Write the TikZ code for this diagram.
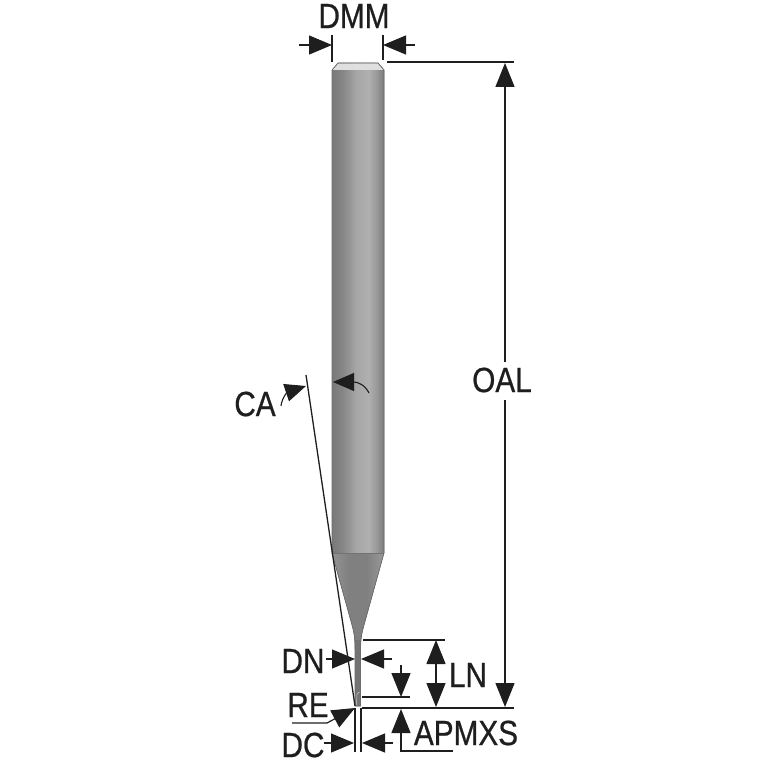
\documentclass[tikz,border=0pt]{standalone}
\usepackage{fontspec}
\setmainfont[FakeStretch=0.85,FakeBold=0.6]{Liberation Sans}
\usetikzlibrary{arrows.meta, positioning}
\definecolor{inkblack}{RGB}{30,30,30}
\pgfdeclarehorizontalshading{shankshade}{100bp}{
  color(0bp)=(gray!95!black);
  color(25bp)=(gray!95!black);
  color(35bp)=(gray!95!white);
  color(48bp)=(gray!70!white);
  color(60bp)=(gray!62!white);
  color(68bp)=(gray!80!white);
  color(75bp)=(gray!95!black);
  color(100bp)=(gray!95!black)}
\pgfdeclarehorizontalshading{coneshade}{100bp}{
  color(0bp)=(gray!85!white);
  color(25bp)=(gray!85!white);
  color(42bp)=(gray);
  color(58bp)=(gray);
  color(75bp)=(gray!80!white);
  color(100bp)=(gray!80!white)}

\begin{document}
\begin{tikzpicture}[
    x=1pt, y=-1pt,
    label/.style={font=\fontsize{35}{35}\selectfont, text=inkblack, inner sep=0pt},
    dim/.style={-{Triangle[length=23pt,width=19pt]}, line width=1.2pt, inkblack},
    bigdim/.style={-{Triangle[length=24pt,width=19pt]}, line width=1.4pt, inkblack},
    extline/.style={line width=1.3pt, inkblack},
    curvedim/.style={-{Triangle[length=21pt,width=18pt]}, line width=1.1pt, inkblack}
]
    \useasboundingbox (0,0) rectangle (767,767);

    % Tool body
    \fill[shading=shankshade] (332,70) -- (338,63) -- (378,63) -- (384,70) -- (384,553) -- (332,553) -- cycle;
    \fill[gray!25!white] (332.5,70) -- (338,63.5) -- (378,63.5) -- (383.5,70) -- cycle;
    \fill[shading=coneshade] (332,553) -- (384,553) -- (364,625)
        .. controls (361.5,634) and (360.5,640) .. (360.5,650) -- (360.5,706) -- (355,706) -- (355,650)
        .. controls (355,640) and (354.5,634) .. (352,625) -- cycle;
    \fill[gray!90!black] (355,640) rectangle (360.5,706);
    \draw[gray!85!black, line width=0.7pt] (332,70) -- (338,63) -- (378,63) -- (384,70) -- (384,553) -- (364,625)
        .. controls (361.5,634) and (360.5,640) .. (360.5,650) -- (360.5,706) -- (355,706) -- (355,650)
        .. controls (355,640) and (354.5,634) .. (352,625) -- (332,553) -- cycle;
    \draw[gray!90!black, line width=0.7pt] (332,553) -- (384,553);
    \draw[gray!35!white, line width=0.5pt] (356.5,705) -- (357,694) -- (359.5,692);

    % Nodes
    \node[label] (dmm) at (354,16) {DMM};
    \node[label] (oal) at (502,380) {OAL};
    \node[label] (ca) at (255,404) {CA};
    \node[label] (ln) at (468,675) {LN};
    \node[label] (dn) at (303,661) {DN};
    \node[label] (re) at (308,705) {RE};
    \node[label] (dc) at (303,745) {DC};
    \node[label] (apmxs) at (466,733) {APMXS};

    % Coordinates
    \coordinate (dmmla) at (332,35); \coordinate (dmmlb) at (332,62);
    \coordinate (dmmra) at (383,35); \coordinate (dmmrb) at (383,60);
    \coordinate (dmmlfrom) at (299,45); \coordinate (dmmlto) at (332,45);
    \coordinate (dmmrfrom) at (415,45); \coordinate (dmmrto) at (383,45);
    \coordinate (topa) at (387,62); \coordinate (topb) at (514,62);
    \coordinate (basea) at (362,708); \coordinate (baseb) at (514,708);
    \coordinate (oalup) at (505,362); \coordinate (oaltop) at (505,63);
    \coordinate (oaldown) at (505,400); \coordinate (oalbase) at (505,707);
    \coordinate (lna) at (363,640); \coordinate (lnb) at (445,640);
    \coordinate (lnmid) at (436,675); \coordinate (lntop) at (436,640); \coordinate (lnbase) at (436,707);
    \coordinate (stepa) at (362,697); \coordinate (stepb) at (410,697);
    \coordinate (stepfrom) at (401,665); \coordinate (stepto) at (401,697);
    \coordinate (apcorner) at (401,751); \coordinate (apend) at (453,751); \coordinate (apto) at (401,709);
    \coordinate (dnlfrom) at (326,659); \coordinate (dnlto) at (355,659);
    \coordinate (dnrfrom) at (392,659); \coordinate (dnrto) at (361,659);
    \coordinate (dcla) at (355,708); \coordinate (dclb) at (355,752);
    \coordinate (dcra) at (361,708); \coordinate (dcrb) at (361,752);
    \coordinate (dclfrom) at (324,743); \coordinate (dclto) at (354,743);
    \coordinate (dcrfrom) at (393,743); \coordinate (dcrto) at (362,743);
    \coordinate (rea) at (292,723); \coordinate (reb) at (327,723); \coordinate (reto) at (355,708);
    \coordinate (anga) at (306,375); \coordinate (angb) at (355,706);
    \coordinate (cafrom) at (281,406); \coordinate (cato) at (306,386);
    \coordinate (shfrom) at (369,393); \coordinate (shto) at (333,382);

    % Arrows
    \draw[extline] (dmmla) -- (dmmlb);
    \draw[extline] (dmmra) -- (dmmrb);
    \draw[dim] (dmmlfrom) -- (dmmlto);
    \draw[dim] (dmmrfrom) -- (dmmrto);
    \draw[extline] (topa) -- (topb);
    \draw[extline] (basea) -- (baseb);
    \draw[bigdim] (oalup) -- (oaltop);
    \draw[bigdim] (oaldown) -- (oalbase);
    \draw[extline] (lna) -- (lnb);
    \draw[bigdim] (lnmid) -- (lntop);
    \draw[bigdim] (lnmid) -- (lnbase);
    \draw[extline] (stepa) -- (stepb);
    \draw[bigdim] (stepfrom) -- (stepto);
    \draw[bigdim] (apend) -- (apcorner) -- (apto);
    \draw[dim] (dnlfrom) -- (dnlto);
    \draw[dim] (dnrfrom) -- (dnrto);
    \draw[extline] (dcla) -- (dclb);
    \draw[extline] (dcra) -- (dcrb);
    \draw[dim] (dclfrom) -- (dclto);
    \draw[dim] (dcrfrom) -- (dcrto);
    \draw[dim] (rea) -- (reb) -- (reto);
    \draw[extline] (anga) -- (angb);
    \draw[curvedim] (cafrom) .. controls (282,397) and (288,392) .. (cato);
    \draw[curvedim] (shfrom) .. controls (365,385) and (358,382) .. (shto);
\end{tikzpicture}
\end{document}
